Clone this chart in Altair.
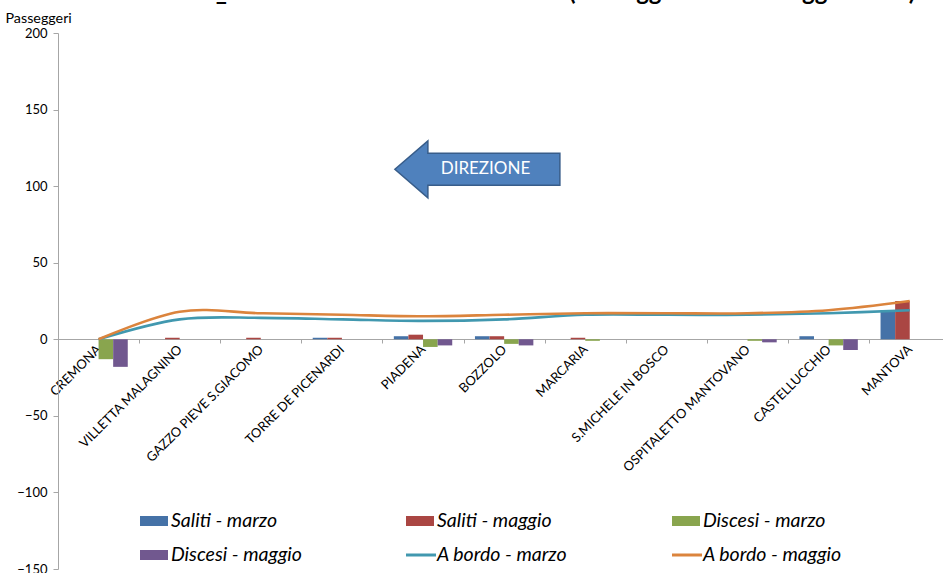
import json
import altair as alt
import pandas as pd

# Stations along the line, in the order they appear on the axis
stations = [
    "CREMONA", "VILLETTA MALAGNINO", "GAZZO PIEVE S.GIACOMO", "TORRE DE PICENARDI",
    "PIADENA", "BOZZOLO", "MARCARIA", "S.MICHELE IN BOSCO",
    "OSPITALETTO MANTOVANO", "CASTELLUCCHIO", "MANTOVA",
]

series_names = [
    "Saliti - marzo", "Saliti - maggio", "Discesi - marzo",
    "Discesi - maggio", "A bordo - marzo", "A bordo - maggio",
]
series_colors = ["#4572A7", "#AA4643", "#89A54E", "#71588F", "#4198AF", "#DB843D"]

# Passengers boarding / alighting per station
saliti_marzo = [0, 0, 0, 1, 2, 2, 0, 0, 0, 2, 19]
saliti_maggio = [0, 1, 1, 1, 3, 2, 1, 0, 0, 0, 25]
discesi_marzo = [-13, 0, 0, 0, -5, -3, -1, 0, -1, -4, 0]
discesi_maggio = [-18, 0, 0, 0, -4, -4, 0, 0, -2, -7, 0]

# Passengers on board after each station
abordo_marzo = [0, 13, 14, 13, 12, 13, 16, 16, 16, 17, 19]
abordo_maggio = [0, 18, 17, 16, 15, 16, 17, 17, 17, 19, 25]

y_ticks = [-150, -100, -50, 0, 50, 100, 150, 200]

# Layout (pixels)
PAD_L, PAD_T, PAD_R, PAD_B = 58, 33, 0, 4
PLOT_W, PLOT_H = 885, 536
FONT = "Lato"

bar_values = [saliti_marzo, saliti_maggio, discesi_marzo, discesi_maggio]
bar_rows = []
for k, (name, vals) in enumerate(zip(series_names[:4], bar_values)):
    for i, v in enumerate(vals):
        bar_rows.append({"idx": i, "serie": name, "k": k, "value": v, "base": 0})
bars_df = pd.DataFrame(bar_rows)

line_rows = []
for name, vals in zip(series_names[4:], [abordo_marzo, abordo_maggio]):
    for i, v in enumerate(vals):
        line_rows.append({"idx": i, "serie": name, "value": v})
lines_df = pd.DataFrame(line_rows)

x_scale = alt.Scale(domain=[-0.5, 10.41], nice=False, zero=False)
y_scale = alt.Scale(domain=[-150, 200], nice=False, zero=False)
color_scale = alt.Scale(domain=series_names, range=series_colors)

label_expr = json.dumps(stations) + "[round(datum.value + 0.5)]"
x_axis = alt.Axis(
    values=[i - 0.5 for i in range(len(stations))],
    labelExpr=label_expr,
    labelAngle=-45, labelAlign="right", labelBaseline="middle",
    labelOffset=40.5, labelPadding=4, tickSize=4,
    labelFont=FONT, labelFontSize=13, labelColor="#000000",
    labelOverlap=False, labelBound=False, labelLimit=300,
    domainColor="#A6A6A6", tickColor="#A6A6A6", grid=False,
    offset=-230, title=None,
)
y_axis = alt.Axis(
    values=y_ticks, tickSize=5, labelPadding=6,
    labelFont=FONT, labelFontSize=13, labelColor="#000000",
    domainColor="#A6A6A6", tickColor="#A6A6A6", grid=False,
    title="Passeggeri", titleAngle=0, titleX=-53, titleY=-15,
    titleAlign="left", titleBaseline="middle", titleFont=FONT,
    titleFontSize=14.3, titleFontWeight="normal", titleColor="#000000",
)


def xq(field):
    return alt.X(field, scale=x_scale, axis=x_axis)


def yq(field):
    return alt.Y(field, scale=y_scale, axis=y_axis)


bars = alt.Chart(bars_df).transform_calculate(
    x0="datum.idx - 0.36 + datum.k * 0.18",
    x1="datum.idx - 0.36 + datum.k * 0.18 + 0.18",
).mark_rect().encode(
    x=xq("x0:Q"),
    x2="x1:Q",
    y=yq("value:Q"),
    y2="base:Q",
    color=alt.Color("serie:N", scale=color_scale, legend=None),
)

lines = alt.Chart(lines_df).mark_line(interpolate="cardinal", strokeWidth=2.6).encode(
    x=xq("idx:Q"),
    y=yq("value:Q"),
    color=alt.Color("serie:N", scale=color_scale, legend=None),
)

# Direction arrow, placed in data coordinates
ARROW_PATH = "M -1 0 L -0.6 -0.345 L -0.6 -0.194 L 1 -0.194 L 1 0.194 L -0.6 0.194 L -0.6 0.345 Z"
arrow_pos = {"ax": 4.67, "ay": 111, "tx": 4.77, "label": "DIREZIONE"}
arrow_src = alt.Data(values=[arrow_pos])
arrow = alt.Chart(arrow_src).mark_point(
    shape=ARROW_PATH, size=165 * 165, filled=True, fill="#4F81BD",
    stroke="#385D8A", strokeWidth=1.5, opacity=1,
).encode(
    x=xq("ax:Q"),
    y=yq("ay:Q"),
)
arrow_text = alt.Chart(arrow_src).mark_text(
    font=FONT, fontSize=17, color="#FFFFFF", align="center", baseline="middle",
).encode(
    x=xq("tx:Q"),
    y=yq("ay:Q"),
    text="label:N",
)

# Chart title running above the top edge
TITLE_Y = 0 - PAD_T
title_left = alt.Chart(alt.Data(values=[{"t": "Linea Mantova - Cremona_"}])).mark_text(
    font=FONT, fontSize=24, fontWeight="bold", align="right", baseline="alphabetic",
).encode(x=alt.value(227 - PAD_L), y=alt.value(TITLE_Y), text="t:N")
title_right = alt.Chart(alt.Data(values=[{"t": "(Passeggeri marzo-maggio 2011)"}])).mark_text(
    font=FONT, fontSize=24, fontWeight="bold", align="left", baseline="alphabetic",
).encode(x=alt.value(569 - PAD_L), y=alt.value(TITLE_Y), text="t:N")

# Legend inside the plot area: 3 columns, 2 rows
LEG_X0, LEG_DX, LEG_Y0, LEG_DY = 140, 266, 521, 34
legend_layers = []
for slot, (name, color) in enumerate(zip(series_names, series_colors)):
    col, row = slot % 3, slot // 3
    sx = LEG_X0 + col * LEG_DX - PAD_L
    cy = LEG_Y0 + row * LEG_DY - PAD_T
    src = alt.Data(values=[{"label": name}])
    if slot < 4:
        sym = alt.Chart(src).mark_rect(color=color).encode(
            x=alt.value(sx), x2=alt.value(sx + 28),
            y=alt.value(cy - 5), y2=alt.value(cy + 5),
        )
    else:
        sym = alt.Chart(src).mark_rule(color=color, strokeWidth=3).encode(
            x=alt.value(sx), x2=alt.value(sx + 30), y=alt.value(cy),
        )
    txt = alt.Chart(src).mark_text(
        font=FONT, fontSize=19.5, fontStyle="italic", align="left",
        baseline="middle", color="#000000",
    ).encode(x=alt.value(sx + 31), y=alt.value(cy), text="label:N")
    legend_layers += [sym, txt]

chart = alt.layer(
    bars, lines, arrow, arrow_text, title_left, title_right, *legend_layers
).properties(
    width=PLOT_W, height=PLOT_H,
    padding={"left": PAD_L, "top": PAD_T, "right": PAD_R, "bottom": PAD_B},
    autosize=alt.AutoSizeParams(type="none"),
    background="#FFFFFF",
).configure_view(stroke=None)

chart.save("out.html", embed_options={"renderer": "svg", "actions": False})
